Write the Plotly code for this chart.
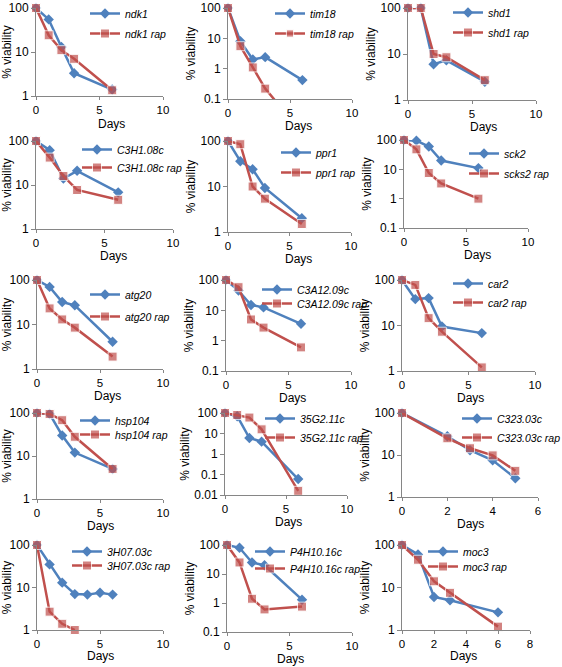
import plotly.graph_objects as go

W, H = 562, 667
BLUE = "#4F81BD"
RED = "#C0504D"

# ---------- data ----------
genes = ["ndk1", "tim18", "shd1", "C3H1.08c", "ppr1", "sck2",
         "atg20", "C3A12.09c", "car2", "hsp104", "35G2.11c", "C323.03c",
         "3H07.03c", "P4H10.16c", "moc3"]
red_names = ["ndk1 rap", "tim18 rap", "shd1 rap", "C3H1.08c rap", "ppr1 rap", "scks2 rap",
             "atg20 rap", "C3A12.09c rap", "car2 rap", "hsp104 rap", "35G2.11c rap", "C323.03c rap",
             "3H07.03c rap", "P4H10.16c rap", "moc3 rap"]

days_std = [0, 1, 2, 3, 6]
days_c323 = [0, 2, 3, 4, 5]
days_3h07_blue = [0, 1, 2, 3, 4, 5, 6]
days_3h07_red = [0, 1, 2, 3]

ndk1 = [100, 55, 13, 3.3, 1.4];        ndk1_rap = [100, 24, 11, 7, 1.35]
tim18 = [100, 8, 2, 2.4, 0.42];        tim18_rap = [100, 5.5, 1.1, 0.22, 0.0075]
shd1 = [100, 100, 6, 7.3, 2.5];        shd1_rap = [100, 100, 10, 8.5, 2.7]
c3h1 = [100, 62, 14, 21, 6.8];         c3h1_rap = [100, 42, 16, 7.7, 4.6]
ppr1 = [100, 36, 24, 9.3, 2.0];        ppr1_rap = [100, 85, 10, 5.4, 1.5]
sck2 = [100, 95, 60, 20, 11];          sck2_rap = [100, 48, 7.5, 3.3, 1.0]
atg20 = [100, 70, 32, 27, 4.1];        atg20_rap = [100, 23, 13, 8.5, 1.9]
c3a12 = [100, 45, 15, 12.5, 3.6];      c3a12_rap = [100, 58, 5, 2.7, 0.6]
car2 = [100, 38, 40, 9.5, 6.8];        car2_rap = [100, 78, 14.5, 7.3, 1.2]
hsp104 = [100, 95, 30, 12, 5];         hsp104_rap = [100, 95, 68, 28, 5]
g35 = [100, 70, 6, 4, 0.06];           g35_rap = [100, 80, 60, 16, 0.016]
c323 = [100, 28, 13, 7.5, 2.8];        c323_rap = [100, 25, 14.5, 9.8, 4.2]
h307 = [100, 35, 13, 7, 6.8, 7.5, 6.8]; h307_rap = [100, 2.7, 1.4, 1.0]
p4h10 = [100, 80, 25, 20, 1.3];        p4h10_rap = [100, 25, 1.4, 0.6, 0.75]
moc3 = [100, 60, 6, 5, 2.6];           moc3_rap = [100, 45, 14, 7.5, 1.2]

blue_x = [days_std] * 11 + [days_c323, days_3h07_blue, days_std, days_std]
red_x = [days_std] * 11 + [days_c323, days_3h07_red, days_std, days_std]
blue_y = [ndk1, tim18, shd1, c3h1, ppr1, sck2, atg20, c3a12, car2, hsp104, g35, c323, h307, p4h10, moc3]
red_y = [ndk1_rap, tim18_rap, shd1_rap, c3h1_rap, ppr1_rap, sck2_rap, atg20_rap, c3a12_rap,
         car2_rap, hsp104_rap, g35_rap, c323_rap, h307_rap, p4h10_rap, moc3_rap]

ymin_exp = [0, -1, 0, 0, 0, -1, 0, -1, 0, 0, -2, 0, 0, -1, 0]
xmax = [10] * 11 + [6, 10, 10, 8]
xticks = [[0, 5, 10]] * 11 + [[0, 2, 4, 6], [0, 5, 10], [0, 5, 10], [0, 2, 4, 6, 8]]

# ---------- layout (pixel boxes) ----------
boxes = [  # x0, x1, ytop, ybottom
    (36, 163, 8, 96), (228, 352, 8, 99), (408, 536, 8, 100),
    (36, 173, 141, 229), (228, 351, 141, 232), (404, 528, 140, 228),
    (37, 163, 280, 369), (226, 351, 280, 371), (402, 535, 280, 371),
    (37, 163, 413, 499), (225, 347, 413, 495), (402, 538, 413, 497),
    (37, 163, 545, 630), (227, 352, 545, 632), (402, 530, 545, 630),
]
legtext_x = [125, 310, 488, 117, 316, 504, 125, 297, 488, 115, 300, 497, 107, 290, 463]
leg_y = [(13, 33), (13, 33), (12, 32), (149, 167), (152, 172), (153, 173),
         (294, 316), (289, 303), (283, 302), (420, 434), (418, 437), (418, 437),
         (551, 565), (551, 568), (551, 566)]
days_pos = [(111, 124), (298, 126), (483, 127), (113, 256), (298, 259), (477, 255),
            (107, 396), (292, 398), (470, 398), (100, 526), (288, 522), (470, 524),
            (100, 656), (290, 659), (463, 656)]

fig = go.Figure()
layout = dict(
    width=W, height=H, margin=dict(l=0, r=0, t=0, b=0, autoexpand=False),
    plot_bgcolor="white", paper_bgcolor="white", showlegend=True,
    font=dict(family="Liberation Sans, Arial", size=11, color="#000"),
)
annotations = []

def legname(n):
    return "legend" if n == 0 else "legend%d" % (n + 1)

for i in range(15):
    k = "" if i == 0 else str(i + 1)
    x0, x1, yt, yb = boxes[i]
    sizes_r = [9] * len(red_y[i])
    if genes[i] == "tim18":
        sizes_r[-1] = 0
    lb, lr = legname(2 * i), legname(2 * i + 1)
    fig.add_trace(go.Scatter(
        x=blue_x[i], y=blue_y[i], name=genes[i], mode="lines+markers", showlegend=True,
        line=dict(color=BLUE, width=2.5), marker=dict(symbol="diamond", size=8, color=BLUE),
        xaxis="x" + k, yaxis="y" + k, legend=lb, cliponaxis=False))
    fig.add_trace(go.Scatter(
        x=red_x[i], y=red_y[i], name=red_names[i], mode="lines+markers", showlegend=True,
        line=dict(color=RED, width=2.5), marker=dict(symbol="square", size=sizes_r, color=RED),
        xaxis="x" + k, yaxis="y" + k, legend=lr, cliponaxis=False))

    yvals = [10 ** e for e in range(ymin_exp[i], 3)]
    ytext = [("%g" % v) for v in yvals]
    axis_common = dict(showline=True, linecolor="#868686", linewidth=1, showgrid=False,
                       zeroline=False, ticks="outside", tickcolor="#868686",
                       automargin=False)
    layout["xaxis" + k] = dict(
        axis_common, domain=[x0 / W, x1 / W], anchor="y" + k, range=[0, xmax[i]],
        tickvals=xticks[i], ticklen=3, tickfont=dict(size=11.5))
    layout["yaxis" + k] = dict(
        axis_common, domain=[1 - yb / H, 1 - yt / H], anchor="x" + k, type="log",
        range=[ymin_exp[i], 2], tickvals=yvals, ticktext=ytext, ticklen=4,
        tickfont=dict(size=12),
        title=dict(text="% viability", font=dict(size=12), standoff=2))
    dx, dy = days_pos[i]
    annotations.append(dict(text="Days", xref="paper", yref="paper", x=dx / W, y=1 - dy / H,
                            xanchor="center", yanchor="middle", showarrow=False,
                            font=dict(size=12)))
    tx = legtext_x[i]
    for n, cy in zip((2 * i, 2 * i + 1), leg_y[i]):
        layout[legname(n)] = dict(
            x=(tx - 40) / W, y=1 - (cy - 14) / H, xanchor="left", yanchor="top",
            bgcolor="rgba(0,0,0,0)", font=dict(size=10.5, style="italic"),
            tracegroupgap=0, itemwidth=30)

layout["annotations"] = annotations
fig.update_layout(**layout)
fig.write_html("out.html", config={"displayModeBar": False},
               post_script="document.body.style.margin='0px';")
